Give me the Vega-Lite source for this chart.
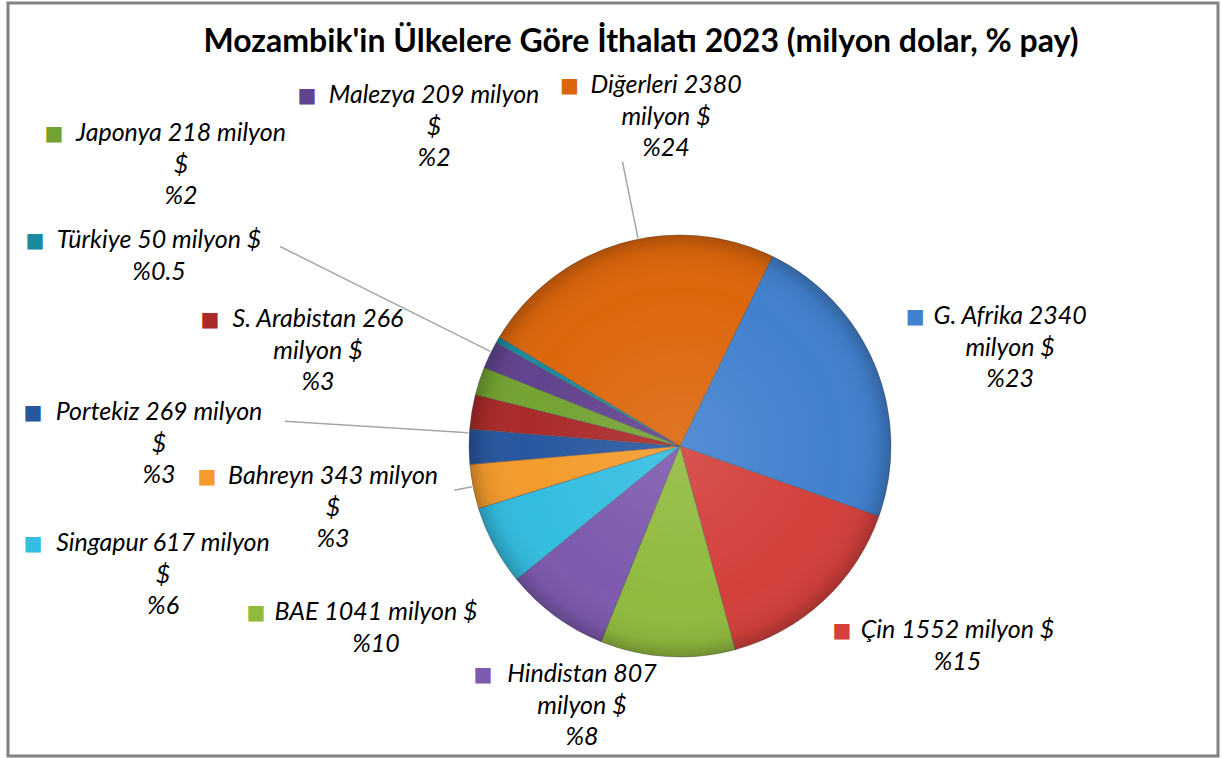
{
  "$schema": "https://vega.github.io/schema/vega-lite/v6.json",
  "width": 1210,
  "height": 753,
  "autosize": "none",
  "padding": {"left": 8, "top": 3, "right": 4, "bottom": 2},
  "background": "#ffffff",
  "view": {"stroke": "#828282", "strokeWidth": 3},
  "title": {"text": "Mozambik'in Ülkelere Göre İthalatı 2023 (milyon dolar, % pay)", "anchor": "middle", "frame": "group", "offset": 0, "dx": 28, "dy": 56, "baseline": "top", "font": "Lato", "fontSize": 32, "fontWeight": "bold", "color": "#000000"},
  "config": {
    "style": {"view": {"stroke": "#828282", "strokeWidth": 3}},
    "text": {"align": "center", "baseline": "line-top", "lineBreak": "\n", "lineHeight": 31.5, "font": "Lato", "fontStyle": "italic", "fontSize": 25}
  },
  "data": {"values": [
    {"rank": 1, "country": "G. Afrika", "value": 2340, "label": "G. Afrika 2340\nmilyon $\n%23"},
    {"rank": 2, "country": "Çin", "value": 1552, "label": "Çin 1552 milyon $\n%15"},
    {"rank": 3, "country": "BAE", "value": 1041, "label": "BAE 1041 milyon $\n%10"},
    {"rank": 4, "country": "Hindistan", "value": 807, "label": "Hindistan 807\nmilyon $\n%8"},
    {"rank": 5, "country": "Singapur", "value": 617, "label": "Singapur 617 milyon\n$\n%6"},
    {"rank": 6, "country": "Bahreyn", "value": 343, "label": "Bahreyn 343 milyon\n$\n%3"},
    {"rank": 7, "country": "Portekiz", "value": 269, "label": "Portekiz 269 milyon\n$\n%3"},
    {"rank": 8, "country": "S. Arabistan", "value": 266, "label": "S. Arabistan 266\nmilyon $\n%3"},
    {"rank": 9, "country": "Japonya", "value": 218, "label": "Japonya 218 milyon\n$\n%2"},
    {"rank": 10, "country": "Malezya", "value": 209, "label": "Malezya 209 milyon\n$\n%2"},
    {"rank": 11, "country": "Türkiye", "value": 50, "label": "Türkiye 50 milyon $\n%0.5"},
    {"rank": 12, "country": "Diğerleri", "value": 2380, "label": "Diğerleri 2380\nmilyon $\n%24"}
  ]},
  "layer": [
  {
  "encoding": {
    "theta": {"field": "value", "type": "quantitative", "stack": true, "scale": {"range": [0.4538, 6.737]}},
    "order": {"field": "rank", "type": "quantitative", "sort": "ascending"},
    "color": {"field": "country", "type": "nominal", "legend": null, "scale": {
      "domain": ["G. Afrika", "Çin", "BAE", "Hindistan", "Singapur", "Bahreyn", "Portekiz", "S. Arabistan", "Japonya", "Malezya", "Türkiye", "Diğerleri"],
      "range": ["#4281CF", "#D4403C", "#90BA3E", "#7D5AAE", "#33BDE0", "#F49B2C", "#2857A0", "#AA2A2A", "#74A232", "#62438F", "#1B8A9E", "#DC660C"]}}
  },
  "layer": [
    {"mark": {"type": "arc", "x": {"expr": "width*0.5554"}, "y": {"expr": "height*0.5883"}, "radius": 211, "stroke": "#4a4a4a", "strokeOpacity": 0.4, "strokeWidth": 1}},

    {"mark": {"type": "arc", "clip": true, "x": {"expr": "width*0.5554"}, "y": {"expr": "height*0.5883"}, "radius": 290, "radius2": 212, "padAngle": 3, "thetaOffset": 0.0873, "theta2Offset": 0.0873, "stroke": "#a6a6a6", "strokeWidth": 1.5, "fillOpacity": 0},
     "encoding": {"strokeOpacity": {"condition": {"test": "datum.rank === 12", "value": 1}, "value": 0}}},
    {"mark": {"type": "arc", "clip": true, "x": {"expr": "width*0.5554"}, "y": {"expr": "height*0.5883"}, "radius": 447, "radius2": 212, "padAngle": 3, "thetaOffset": -0.0646, "theta2Offset": -0.0646, "stroke": "#a6a6a6", "strokeWidth": 1.5, "fillOpacity": 0},
     "encoding": {"strokeOpacity": {"condition": {"test": "datum.rank === 11", "value": 1}, "value": 0}}},
    {"mark": {"type": "arc", "clip": true, "x": {"expr": "width*0.5554"}, "y": {"expr": "height*0.5883"}, "radius": 396, "radius2": 212, "padAngle": 3, "thetaOffset": 0.0663, "theta2Offset": 0.0663, "stroke": "#a6a6a6", "strokeWidth": 1.5, "fillOpacity": 0},
     "encoding": {"strokeOpacity": {"condition": {"test": "datum.rank === 7", "value": 1}, "value": 0}}},
    {"mark": {"type": "arc", "clip": true, "x": {"expr": "width*0.5554"}, "y": {"expr": "height*0.5883"}, "radius": 230, "radius2": 212, "padAngle": 3, "stroke": "#a6a6a6", "strokeWidth": 1.5, "fillOpacity": 0},
     "encoding": {"strokeOpacity": {"condition": {"test": "datum.rank === 6", "value": 1}, "value": 0}}},

    {"mark": {"type": "text", "clip": true, "x": {"expr": "width*0.5554"}, "y": {"expr": "height*0.5883"}, "radius": 360.4, "thetaOffset": -0.0247},
     "encoding": {"color": {"value": "#000000"}, "text": {"condition": {"test": "datum.rank === 1", "field": "label"}, "value": ""}}},
    {"mark": {"type": "text", "clip": true, "x": {"expr": "width*0.5554"}, "y": {"expr": "height*0.5883"}, "radius": 325.0, "thetaOffset": -0.2753},
     "encoding": {"color": {"value": "#000000"}, "text": {"condition": {"test": "datum.rank === 2", "field": "label"}, "value": ""}}},
    {"mark": {"type": "text", "clip": true, "x": {"expr": "width*0.5554"}, "y": {"expr": "height*0.5883"}, "radius": 339.6, "thetaOffset": 1.0496},
     "encoding": {"color": {"value": "#000000"}, "text": {"condition": {"test": "datum.rank === 3", "field": "label"}, "value": ""}}},
    {"mark": {"type": "text", "clip": true, "x": {"expr": "width*0.5554"}, "y": {"expr": "height*0.5883"}, "radius": 234.7, "thetaOffset": -0.2039},
     "encoding": {"color": {"value": "#000000"}, "text": {"condition": {"test": "datum.rank === 4", "field": "label"}, "value": ""}}},
    {"mark": {"type": "text", "clip": true, "x": {"expr": "width*0.5554"}, "y": {"expr": "height*0.5883"}, "radius": 523.5, "thetaOffset": 0.3351},
     "encoding": {"color": {"value": "#000000"}, "text": {"condition": {"test": "datum.rank === 5", "field": "label"}, "value": ""}}},
    {"mark": {"type": "text", "clip": true, "x": {"expr": "width*0.5554"}, "y": {"expr": "height*0.5883"}, "radius": 347.3, "thetaOffset": 0.1501},
     "encoding": {"color": {"value": "#000000"}, "text": {"condition": {"test": "datum.rank === 6", "field": "label"}, "value": ""}}},
    {"mark": {"type": "text", "clip": true, "x": {"expr": "width*0.5554"}, "y": {"expr": "height*0.5883"}, "radius": 523.3, "thetaOffset": 0.0969},
     "encoding": {"color": {"value": "#000000"}, "text": {"condition": {"test": "datum.rank === 7", "field": "label"}, "value": ""}}},
    {"mark": {"type": "text", "clip": true, "x": {"expr": "width*0.5554"}, "y": {"expr": "height*0.5883"}, "radius": 388.8, "thetaOffset": 0.2101},
     "encoding": {"color": {"value": "#000000"}, "text": {"condition": {"test": "datum.rank === 8", "field": "label"}, "value": ""}}},
    {"mark": {"type": "text", "clip": true, "x": {"expr": "width*0.5554"}, "y": {"expr": "height*0.5883"}, "radius": 597.0, "thetaOffset": 0.2675},
     "encoding": {"color": {"value": "#000000"}, "text": {"condition": {"test": "datum.rank === 9", "field": "label"}, "value": ""}}},
    {"mark": {"type": "text", "clip": true, "x": {"expr": "width*0.5554"}, "y": {"expr": "height*0.5883"}, "radius": 440.8, "thetaOffset": 0.5322},
     "encoding": {"color": {"value": "#000000"}, "text": {"condition": {"test": "datum.rank === 10", "field": "label"}, "value": ""}}},
    {"mark": {"type": "text", "clip": true, "x": {"expr": "width*0.5554"}, "y": {"expr": "height*0.5883"}, "radius": 565.8, "thetaOffset": -0.1265},
     "encoding": {"color": {"value": "#000000"}, "text": {"condition": {"test": "datum.rank === 11", "field": "label"}, "value": ""}}},
    {"mark": {"type": "text", "clip": true, "x": {"expr": "width*0.5554"}, "y": {"expr": "height*0.5883"}, "radius": 376.0, "thetaOffset": 0.2499},
     "encoding": {"color": {"value": "#000000"}, "text": {"condition": {"test": "datum.rank === 12", "field": "label"}, "value": ""}}},

    {"mark": {"type": "text", "clip": true, "x": {"expr": "width*0.5554"}, "y": {"expr": "height*0.5883"}, "radius": 360.4, "thetaOffset": -0.0247, "dx": -95, "dy": 15.75, "baseline": "middle", "font": "DejaVu Sans", "fontStyle": "normal", "fontSize": 20},
     "encoding": {"text": {"condition": {"test": "datum.rank === 1", "value": "■"}, "value": ""}}},
    {"mark": {"type": "text", "clip": true, "x": {"expr": "width*0.5554"}, "y": {"expr": "height*0.5883"}, "radius": 325.0, "thetaOffset": -0.2753, "dx": -115.5, "dy": 15.75, "baseline": "middle", "font": "DejaVu Sans", "fontStyle": "normal", "fontSize": 20},
     "encoding": {"text": {"condition": {"test": "datum.rank === 2", "value": "■"}, "value": ""}}},
    {"mark": {"type": "text", "clip": true, "x": {"expr": "width*0.5554"}, "y": {"expr": "height*0.5883"}, "radius": 339.6, "thetaOffset": 1.0496, "dx": -120, "dy": 15.75, "baseline": "middle", "font": "DejaVu Sans", "fontStyle": "normal", "fontSize": 20},
     "encoding": {"text": {"condition": {"test": "datum.rank === 3", "value": "■"}, "value": ""}}},
    {"mark": {"type": "text", "clip": true, "x": {"expr": "width*0.5554"}, "y": {"expr": "height*0.5883"}, "radius": 234.7, "thetaOffset": -0.2039, "dx": -99, "dy": 15.75, "baseline": "middle", "font": "DejaVu Sans", "fontStyle": "normal", "fontSize": 20},
     "encoding": {"text": {"condition": {"test": "datum.rank === 4", "value": "■"}, "value": ""}}},
    {"mark": {"type": "text", "clip": true, "x": {"expr": "width*0.5554"}, "y": {"expr": "height*0.5883"}, "radius": 523.5, "thetaOffset": 0.3351, "dx": -130, "dy": 15.75, "baseline": "middle", "font": "DejaVu Sans", "fontStyle": "normal", "fontSize": 20},
     "encoding": {"text": {"condition": {"test": "datum.rank === 5", "value": "■"}, "value": ""}}},
    {"mark": {"type": "text", "clip": true, "x": {"expr": "width*0.5554"}, "y": {"expr": "height*0.5883"}, "radius": 347.3, "thetaOffset": 0.1501, "dx": -126, "dy": 15.75, "baseline": "middle", "font": "DejaVu Sans", "fontStyle": "normal", "fontSize": 20},
     "encoding": {"text": {"condition": {"test": "datum.rank === 6", "value": "■"}, "value": ""}}},
    {"mark": {"type": "text", "clip": true, "x": {"expr": "width*0.5554"}, "y": {"expr": "height*0.5883"}, "radius": 523.3, "thetaOffset": 0.0969, "dx": -126, "dy": 15.75, "baseline": "middle", "font": "DejaVu Sans", "fontStyle": "normal", "fontSize": 20},
     "encoding": {"text": {"condition": {"test": "datum.rank === 7", "value": "■"}, "value": ""}}},
    {"mark": {"type": "text", "clip": true, "x": {"expr": "width*0.5554"}, "y": {"expr": "height*0.5883"}, "radius": 388.8, "thetaOffset": 0.2101, "dx": -108, "dy": 15.75, "baseline": "middle", "font": "DejaVu Sans", "fontStyle": "normal", "fontSize": 20},
     "encoding": {"text": {"condition": {"test": "datum.rank === 8", "value": "■"}, "value": ""}}},
    {"mark": {"type": "text", "clip": true, "x": {"expr": "width*0.5554"}, "y": {"expr": "height*0.5883"}, "radius": 597.0, "thetaOffset": 0.2675, "dx": -127, "dy": 15.75, "baseline": "middle", "font": "DejaVu Sans", "fontStyle": "normal", "fontSize": 20},
     "encoding": {"text": {"condition": {"test": "datum.rank === 9", "value": "■"}, "value": ""}}},
    {"mark": {"type": "text", "clip": true, "x": {"expr": "width*0.5554"}, "y": {"expr": "height*0.5883"}, "radius": 440.8, "thetaOffset": 0.5322, "dx": -127, "dy": 15.75, "baseline": "middle", "font": "DejaVu Sans", "fontStyle": "normal", "fontSize": 20},
     "encoding": {"text": {"condition": {"test": "datum.rank === 10", "value": "■"}, "value": ""}}},
    {"mark": {"type": "text", "clip": true, "x": {"expr": "width*0.5554"}, "y": {"expr": "height*0.5883"}, "radius": 565.8, "thetaOffset": -0.1265, "dx": -124, "dy": 15.75, "baseline": "middle", "font": "DejaVu Sans", "fontStyle": "normal", "fontSize": 20},
     "encoding": {"text": {"condition": {"test": "datum.rank === 11", "value": "■"}, "value": ""}}},
    {"mark": {"type": "text", "clip": true, "x": {"expr": "width*0.5554"}, "y": {"expr": "height*0.5883"}, "radius": 376.0, "thetaOffset": 0.2499, "dx": -96.5, "dy": 15.75, "baseline": "middle", "font": "DejaVu Sans", "fontStyle": "normal", "fontSize": 20},
     "encoding": {"text": {"condition": {"test": "datum.rank === 12", "value": "■"}, "value": ""}}}
  ]
  },
  {
    "transform": [{"aggregate": [{"op": "sum", "field": "value", "as": "total"}]}],
    "mark": {"type": "arc", "x": {"expr": "width*0.5554"}, "y": {"expr": "height*0.5883"}, "radius": 211,
      "fill": {"gradient": "radial", "x1": 0.5, "y1": 0.5, "r1": 0, "x2": 0.5, "y2": 0.5, "r2": 0.5,
        "stops": [{"offset": 0, "color": "rgba(255,255,255,0.10)"}, {"offset": 0.75, "color": "rgba(255,255,255,0)"}, {"offset": 0.93, "color": "rgba(0,0,0,0.06)"}, {"offset": 1, "color": "rgba(0,0,0,0.22)"}]}},
    "encoding": {"theta": {"field": "total", "type": "quantitative", "stack": true}}
  }
  ]
}
